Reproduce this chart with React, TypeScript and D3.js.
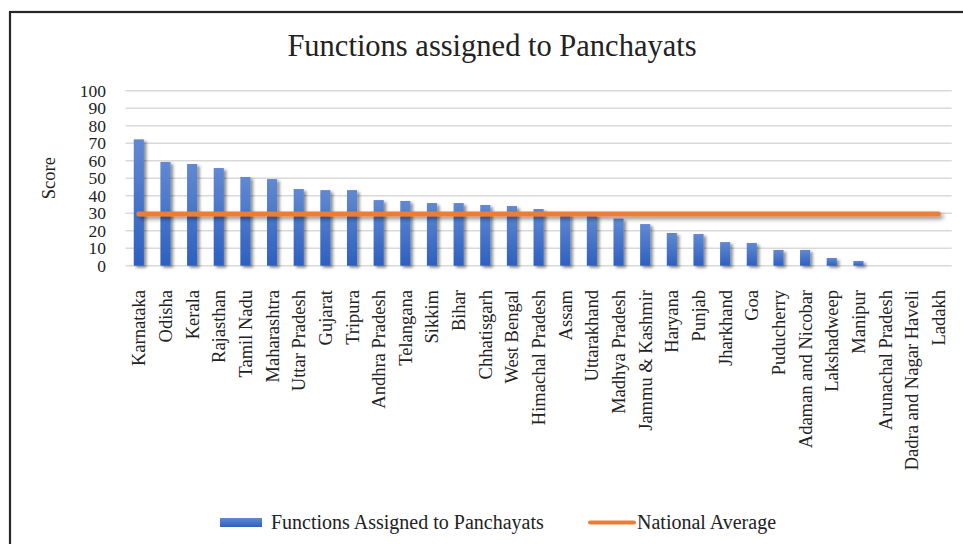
import React from "react";
import * as d3 from "d3";

const categories = [
  "Karnataka", "Odisha", "Kerala", "Rajasthan", "Tamil Nadu", "Maharashtra",
  "Uttar Pradesh", "Gujarat", "Tripura", "Andhra Pradesh", "Telangana", "Sikkim",
  "Bihar", "Chhatisgarh", "West Bengal", "Himachal Pradesh", "Assam", "Uttarakhand",
  "Madhya Pradesh", "Jammu & Kashmir", "Haryana", "Punjab", "Jharkhand", "Goa",
  "Puducherry", "Adaman and Nicobar", "Lakshadweep", "Manipur", "Arunachal Pradesh",
  "Dadra and Nagar Haveli", "Ladakh",
];
const functionsValues = [
  72.2, 59.3, 58.1, 55.8, 50.7, 49.5, 43.8, 43.2, 43.2, 37.5, 37, 35.8,
  35.8, 34.7, 34.1, 32.4, 29.6, 29.2, 26.9, 23.8, 18.7, 18.1, 13.5, 13.0,
  9.0, 9.0, 4.4, 2.7, 0, 0, 0,
];
const nationalAverage = 29.5;
const yTicks = [0, 10, 20, 30, 40, 50, 60, 70, 80, 90, 100];
const seriesNames = ["Functions Assigned to Panchayats", "National Average"];

const FONT = "'Liberation Serif', 'Times New Roman', Times, serif";

export default function App() {
  const W = 963, H = 544;
  const x = d3.scaleBand<string>().domain(categories).range([125.5, 951.7]).paddingInner(0.62).paddingOuter(0.31);
  const y = d3.scaleLinear().domain([0, 100]).range([265.7, 90.7]);
  const line = d3.line<string>()
    .x((c) => (x(c) as number) + x.bandwidth() / 2)
    .y(() => y(nationalAverage));
  const ts = { fontFamily: FONT };
  return (
    <svg width={W} height={H} style={{ position: "absolute", left: 0, top: 0, background: "#fff", fontFamily: FONT }}>
      <defs>
        <linearGradient id="barGrad" x1="0" y1="0" x2="0" y2="1">
          <stop offset="0" stopColor="#6189d2" />
          <stop offset="1" stopColor="#2d60c0" />
        </linearGradient>
        <filter id="shadow" x="-50%" y="-50%" width="200%" height="200%">
          <feDropShadow dx="2.5" dy="2" stdDeviation="1.8" floodColor="#000" floodOpacity="0.45" />
        </filter>
        <filter id="lineShadow" filterUnits="userSpaceOnUse" x="0" y="0" width={W} height={H}>
          <feDropShadow dx="2.5" dy="2.5" stdDeviation="2" floodColor="#000" floodOpacity="0.45" />
        </filter>
      </defs>
      <rect x={0} y={0} width={W} height={H} fill="#fff" />
      <rect x={10} y={12} width={W + 20} height={H + 20} fill="none" stroke="#262626" strokeWidth={2.2} />
      <text x={492} y={56} textAnchor="middle" fontSize={30.5} fill="#222" style={ts}>Functions assigned to Panchayats</text>
      {yTicks.map((t) => (
        <g key={t}>
          <line x1={125.5} x2={951.7} y1={y(t)} y2={y(t)} stroke="#d9d9d9" strokeWidth={1.5} />
          <text x={106} y={y(t)} dy="0.34em" textAnchor="end" fontSize={17.5} fill="#222" style={ts}>{t}</text>
        </g>
      ))}
      <text transform={`translate(55,${y(50)}) rotate(-90)`} textAnchor="middle" fontSize={18.5} fill="#222" style={ts}>Score</text>
      <g filter="url(#shadow)">
        {categories.map((c, i) => (
          functionsValues[i] > 0 ? (
            <rect key={c} x={x(c)} y={y(functionsValues[i])} width={x.bandwidth()}
              height={y(0) - y(functionsValues[i])} fill="url(#barGrad)" />
          ) : null
        ))}
      </g>
      <path d={line(categories) || ""} fill="none" stroke="#ED7D31" strokeWidth={5} strokeLinecap="round" filter="url(#lineShadow)" />
      {categories.map((c) => (
        <text key={c} transform={`translate(${(x(c) as number) + x.bandwidth() / 2 + 6.5},290) rotate(-90)`}
          textAnchor="end" fontSize={18.5} fill="#222" style={ts}>{c}</text>
      ))}
      <rect x={220} y={518} width={42} height={9} fill="url(#barGrad)" />
      <text x={271} y={529} fontSize={20} fill="#222" style={ts}>{seriesNames[0]}</text>
      <line x1={590} x2={634} y1={522.5} y2={522.5} stroke="#ED7D31" strokeWidth={4} strokeLinecap="round" />
      <text x={637} y={529} fontSize={20} fill="#222" style={ts}>{seriesNames[1]}</text>
    </svg>
  );
}
